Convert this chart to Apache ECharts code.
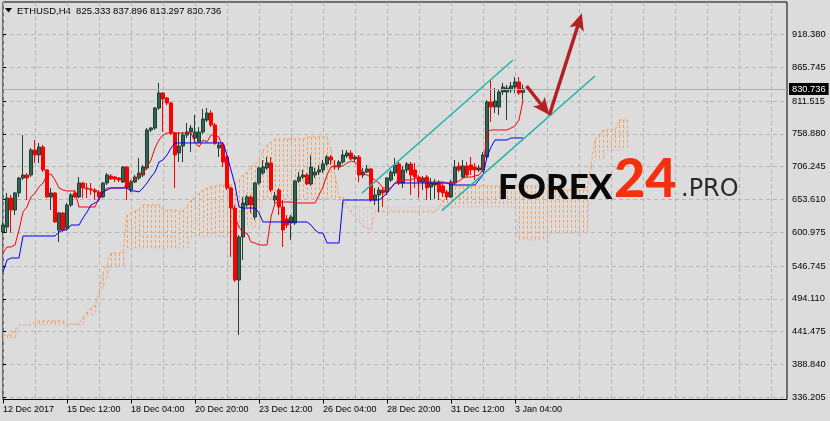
<!DOCTYPE html>
<html><head><meta charset="utf-8">
<script src="https://cdn.jsdelivr.net/npm/echarts@6/dist/echarts.min.js"></script>
<style>html,body{margin:0;padding:0;background:#dcdcdc}#c{width:830px;height:421px}</style>
</head><body><div id="c"></div><script>
const symbolName = 'ETHUSD,H4';
const xLabels = ['12 Dec 2017','15 Dec 12:00','18 Dec 04:00','20 Dec 20:00','23 Dec 12:00','26 Dec 04:00','28 Dec 20:00','31 Dec 12:00','3 Jan 04:00'];
const yTicks = [336.205, 388.840, 441.475, 494.110, 546.745, 600.975, 653.610, 706.245, 758.880, 811.515, 865.745, 918.380];

const opens = [601.3,609.3,655.8,636.6,663.9,687.9,692.7,692.7,732.8,724.8,
737.6,700.8,657.5,663.9,604.5,631.8,607.7,644.6,663.9,657.5,
679.9,671.9,670.3,668.7,665.5,657.5,679.9,691.1,689.5,687.9,
681.5,705.6,668.7,681.5,687.9,692.7,704.0,764.9,768.1,800.2,
824.2,816.2,808.2,760.1,728.0,739.2,756.9,761.7,752.1,745.7,
761.7,780.9,792.2,772.9,736.0,740.9,721.6,671.9,639.8,524.3,
593.3,644.6,657.5,625.4,679.9,695.9,704.0,712.0,652.6,668.7,
641.4,622.2,615.8,615.8,683.1,689.5,692.7,678.3,692.7,697.5,
700.8,710.4,721.6,707.2,705.6,713.6,723.2,728.0,718.4,721.6,
692.7,697.5,702.4,652.6,660.7,668.7,665.5,684.7,695.9,710.4,
679.9,700.8,710.4,700.8,689.5,681.5,689.5,673.5,676.7,679.9,
675.1,665.5,657.5,679.9,707.2,689.5,707.2,708.8,705.6,700.8,
700.8,721.6,809.8,801.8,801.8,825.8,825.8,829.1,833.9,841.9,
825.333];
const closes = [612.5,655.8,636.6,663.9,687.9,692.7,687.9,732.8,724.8,737.6,
700.8,657.5,663.9,617.4,631.8,604.5,644.6,660.7,657.5,679.9,
671.9,670.3,668.7,665.5,657.5,679.9,692.7,686.3,686.3,684.7,
705.6,671.9,681.5,689.5,695.9,705.6,764.9,768.1,800.2,824.2,
814.6,808.2,760.1,724.8,739.2,756.9,761.7,768.1,761.7,761.7,
782.5,792.2,772.9,744.1,740.9,713.6,671.9,639.8,524.3,593.3,
647.8,657.5,644.6,679.9,704.0,705.6,712.0,668.7,659.1,641.4,
604.5,612.5,625.4,683.1,689.5,692.7,678.3,705.6,697.5,700.8,
710.4,721.6,716.8,705.6,713.6,724.8,728.0,718.4,721.6,692.7,
697.5,702.4,652.6,660.7,668.7,663.9,687.9,697.5,708.8,679.9,
700.8,710.4,692.7,689.5,681.5,687.9,671.9,679.9,679.9,665.5,
663.9,657.5,681.5,705.6,700.8,707.2,692.7,700.8,700.8,704.0,
724.8,809.8,801.8,811.4,825.8,833.9,832.3,835.5,841.9,824.2,
830.736];
const lows = [598.1,599.7,599.7,628.6,657.5,684.7,652.6,689.5,712.0,712.0,
697.5,655.8,636.6,615.8,585.3,601.3,604.5,641.4,655.8,655.8,
655.8,655.8,660.7,652.6,652.6,655.8,676.7,684.7,681.5,681.5,
679.9,652.6,665.5,679.9,684.7,689.5,700.8,761.7,764.9,797.0,
761.7,805.0,756.9,671.9,713.6,713.6,752.1,729.6,744.1,744.1,
758.5,777.7,769.7,740.9,721.6,705.6,668.7,561.2,521.1,436.1,
556.4,641.4,631.8,620.6,676.7,692.7,700.8,665.5,647.8,628.6,
577.3,607.7,588.5,612.5,679.9,686.3,676.7,675.1,687.9,692.7,
695.9,707.2,708.8,700.8,700.8,710.4,720.0,716.8,713.6,681.5,
687.9,695.9,649.4,644.6,633.4,641.4,660.7,681.5,691.1,676.7,
671.9,695.9,660.7,671.9,655.8,668.7,652.6,652.6,654.2,652.6,
657.5,652.6,655.8,676.7,697.5,687.9,689.5,692.7,684.7,697.5,
697.5,716.8,777.7,792.2,789.0,821.0,780.9,824.2,824.2,821.0,
813.297];
const highs = [617.4,663.9,660.7,665.5,689.5,756.9,695.9,736.0,748.9,744.1,
740.9,702.4,671.9,665.5,633.4,633.4,647.8,663.9,668.7,689.5,
681.5,679.9,679.9,671.9,668.7,681.5,695.9,694.3,691.1,689.5,
707.2,707.2,684.7,692.7,720.0,708.8,768.1,769.7,801.8,840.3,
825.8,817.8,809.8,761.7,761.7,761.7,776.1,772.9,789.0,769.7,
798.6,800.2,797.0,776.1,745.7,745.7,724.8,673.5,644.6,596.5,
657.5,660.7,660.7,681.5,705.6,716.8,721.6,721.6,665.5,671.9,
652.6,628.6,628.6,684.7,697.5,700.8,695.9,724.8,704.0,708.8,
716.8,724.8,724.8,716.8,716.8,732.8,732.8,732.8,724.8,724.8,
704.0,708.8,704.0,671.9,673.5,673.5,689.5,700.8,720.0,713.6,
707.2,713.6,713.6,712.0,692.7,691.1,692.7,687.9,686.3,684.7,
681.5,668.7,684.7,716.8,713.6,716.8,713.6,721.6,712.0,708.8,
729.6,813.0,845.1,832.3,829.1,840.3,837.1,841.9,849.9,849.9,
837.896];

const tenkan = [567.6,577.3,577.3,580.5,604.5,633.4,641.4,657.5,663.9,673.5,
679.9,692.7,694.3,684.7,671.9,668.7,667.1,667.1,667.1,641.4,
641.4,641.4,641.4,641.4,655.8,663.9,671.9,671.9,671.9,671.9,
671.9,678.3,681.5,686.3,692.7,695.9,705.6,716.8,736.0,748.9,
756.9,760.1,760.1,760.1,760.1,760.1,760.1,760.1,745.7,737.6,
748.9,745.7,756.9,756.9,753.7,732.8,695.9,652.6,625.4,609.3,
599.7,599.7,585.3,583.7,580.5,580.5,580.5,625.4,647.8,649.4,
649.4,649.4,649.4,647.8,647.8,647.8,647.8,647.8,647.8,660.7,
673.5,692.7,705.6,707.2,707.2,707.2,712.0,715.2,713.6,705.6,
695.9,692.7,689.5,684.7,679.9,671.9,671.9,671.9,679.9,684.7,
684.7,684.7,684.7,687.9,686.3,686.3,684.7,681.5,681.5,681.5,
681.5,679.9,679.9,679.9,683.1,687.9,689.5,689.5,691.1,692.7,
700.8,761.7,764.9,764.9,764.9,764.9,764.9,768.1,771.3,780.9,
813.0];
const kijun = [537.2,556.4,559.6,559.6,559.6,594.9,594.9,594.9,594.9,594.9,
594.9,594.9,594.9,594.9,601.3,604.5,604.5,612.5,612.5,612.5,
623.8,633.4,644.6,647.8,652.6,665.5,668.7,671.9,671.9,671.9,
671.9,671.9,667.1,667.1,665.5,671.9,679.9,689.5,697.5,713.6,
716.8,724.8,736.0,744.1,744.1,744.1,744.1,744.1,744.1,744.1,
744.1,744.1,744.1,744.1,744.1,744.1,724.8,700.8,676.7,641.4,
639.8,639.8,639.8,639.8,631.8,617.4,617.4,617.4,617.4,617.4,
617.4,617.4,617.4,617.4,617.4,617.4,617.4,612.5,604.5,599.7,
599.7,583.7,583.7,583.7,583.7,652.6,652.6,652.6,652.6,652.6,
652.6,652.6,652.6,652.6,652.6,657.5,663.9,671.9,679.9,679.9,
679.9,679.9,679.9,679.9,679.9,679.9,679.9,679.9,679.9,679.9,
679.9,679.9,676.7,676.7,676.7,676.7,676.7,676.7,676.7,684.7,
692.7,721.6,737.6,748.9,748.9,748.9,748.9,752.1,752.1,752.1,
752.1];
const senkouA = [436.1,436.1,436.1,444.1,452.2,452.2,452.2,452.2,457.0,458.6,
458.6,458.6,458.6,458.6,458.6,458.6,453.8,453.8,453.8,453.8,
465.0,473.0,479.4,484.2,503.5,535.6,548.4,567.6,567.6,567.6,
569.2,628.6,631.8,635.0,638.2,644.6,644.6,644.6,644.6,644.6,
636.6,636.6,636.6,636.6,633.4,636.6,643.0,652.6,657.5,663.9,
668.7,671.9,673.5,675.1,676.7,676.7,676.7,676.7,679.9,684.7,
692.7,697.5,705.6,708.8,716.8,732.8,740.9,745.7,750.5,750.5,
750.5,750.5,750.5,750.5,750.5,750.5,753.7,753.7,753.7,753.7,
753.7,753.7,732.8,692.7,657.5,657.5,641.4,633.4,625.4,617.4,
610.9,607.7,604.5,633.4,633.4,633.4,633.4,633.4,633.4,633.4,
633.4,633.4,633.4,633.4,633.4,633.4,633.4,633.4,633.4,641.4,
652.6,660.7,668.7,673.5,675.1,675.1,675.1,675.1,675.1,675.1,
675.1,675.1,675.1,675.1,675.1,675.1,675.1,675.1,675.1,675.1,
675.1,675.1,675.1,675.1,675.1,675.1,668.7,668.7,668.7,668.7,
668.7,668.7,668.7,668.7,668.7,668.7,668.7,708.8,748.9,756.9,
764.9,764.9,764.9,764.9,780.9,780.9,780.9];
const senkouB = [431.3,431.3,431.3,431.3,452.2,452.2,452.2,452.2,452.2,452.2,
452.2,452.2,452.2,452.2,452.2,452.2,452.2,452.2,452.2,452.2,
452.2,468.2,468.2,468.2,492.3,513.1,529.1,545.2,545.2,545.2,
545.2,575.7,575.7,575.7,575.7,575.7,575.7,575.7,575.7,575.7,
575.7,575.7,575.7,575.7,575.7,575.7,575.7,593.3,593.3,593.3,
593.3,593.3,593.3,593.3,593.3,593.3,593.3,593.3,609.3,609.3,
609.3,609.3,609.3,609.3,609.3,655.8,655.8,655.8,655.8,655.8,
655.8,655.8,655.8,655.8,655.8,655.8,655.8,655.8,655.8,655.8,
655.8,655.8,652.6,652.6,652.6,641.4,641.4,641.4,641.4,641.4,
641.4,641.4,641.4,641.4,641.4,641.4,641.4,641.4,641.4,641.4,
641.4,641.4,641.4,641.4,641.4,641.4,641.4,641.4,641.4,641.4,
641.4,641.4,641.4,641.4,641.4,641.4,641.4,641.4,641.4,641.4,
641.4,641.4,641.4,641.4,641.4,641.4,641.4,641.4,641.4,588.5,
588.5,588.5,588.5,588.5,588.5,588.5,588.5,599.7,599.7,599.7,
599.7,599.7,599.7,599.7,599.7,599.7,599.7,700.8,716.8,716.8,
716.8,732.8,732.8,732.8,732.8,732.8,732.8];

// drawn objects (bar index, price)
const channelUpper = [[89.7, 663.4], [127.5, 877.2]];
const channelLower = [[109.7, 635.5], [148.0, 851.5]];
const arrows = [[130.9, 835.5, 136.6, 789.0], [136.6, 789.0, 144.7, 952.1]];

const nSlots = 197;
const yMin = 332.68, yMax = 970.18;

const last = opens.length - 1;
const candleData = opens.map((o, i) => [o, closes[i], lows[i], highs[i]]);
const hatchData = senkouA.map((a, i) => [i, a, senkouB[i]]);
const cats = Array.from({length: nSlots}, (_, i) => 'b' + i);

const chart = echarts.init(document.getElementById('c'), null, {renderer: 'canvas'});
const FONT = "'Liberation Sans', Arial, sans-serif";

function hatchItem(params, api) {
  const i = api.value(0), a = api.value(1), b = api.value(2);
  const p1 = api.coord([i, a]), p2 = api.coord([i, b]);
  const x = Math.round(p1[0]) + 0.5;
  return {type: 'line', shape: {x1: x, y1: p1[1], x2: x, y2: p2[1]},
    style: {stroke: a >= b ? '#F4A460' : '#D8BFD8', lineWidth: 1, lineDash: [3, 2]}};
}
function arrowItem(params, api) {
  const p1 = api.coord([api.value(0), api.value(1)]);
  const p2 = api.coord([api.value(2), api.value(3)]);
  const dx = p2[0] - p1[0], dy = p2[1] - p1[1];
  const L = Math.hypot(dx, dy), ux = dx / L, uy = dy / L;
  const hl = 17, hw = 7.5;
  const bx = p2[0] - ux * hl, by = p2[1] - uy * hl;
  return {type: 'group', children: [
    {type: 'line', shape: {x1: p1[0], y1: p1[1], x2: bx + ux * 5, y2: by + uy * 5},
      style: {stroke: '#B22222', lineWidth: 3.5}},
    {type: 'polygon', shape: {points: [[p2[0], p2[1]], [bx - uy * hw, by + ux * hw], [bx + ux * 4, by + uy * 4], [bx + uy * hw, by - ux * hw]]},
      style: {fill: '#B22222'}}
  ]};
}

const lineBase = {type: 'line', symbol: 'none', silent: true, animation: false};
const titleText = symbolName + '  ' + [opens[last], highs[last], lows[last], closes[last]].map(v => v.toFixed(3)).join(' ');

chart.setOption({
  backgroundColor: '#dcdcdc',
  animation: false,
  grid: {left: 3, top: 2, width: 784, height: 397.5, show: true, borderColor: '#000', borderWidth: 1,
    containLabel: false, outerBoundsMode: 'none'},
  xAxis: [{
    type: 'category', data: cats, boundaryGap: false,
    axisLine: {show: false},
    axisTick: {show: true, length: 4, interval: (i) => i % 16 === 0 && i / 16 < xLabels.length, lineStyle: {color: '#000'}},
    axisLabel: {show: true, interval: (i) => i % 16 === 0 && i / 16 < xLabels.length, align: 'left', margin: 6,
      formatter: (v, idx) => xLabels[idx / 16] || '', color: '#000', fontSize: 9, fontFamily: FONT},
    splitLine: {show: true, interval: (i) => i % 8 === 0, lineStyle: {color: '#b4b4b4', type: [4, 3], width: 1}}
  }, {
    type: 'value', min: 0, max: nSlots - 1, show: false, splitLine: {show: false}
  }],
  yAxis: {
    type: 'value', position: 'right', min: yMin, max: yMax,
    axisLine: {show: false},
    axisTick: {show: true, length: 3, customValues: yTicks, lineStyle: {color: '#000'}},
    axisLabel: {show: true, customValues: yTicks, formatter: (v) => v.toFixed(3), margin: 5, color: '#000', fontSize: 9.3, fontFamily: FONT},
    splitLine: {show: true, lineStyle: {color: '#b4b4b4', type: [4, 3], width: 1}}
  },
  graphic: [
    {type: 'polygon', shape: {points: [[5, 8], [12, 8], [8.5, 12.5]]}, style: {fill: '#000'}},
    {type: 'text', x: 17, y: 11, style: {text: titleText, font: '9.5px ' + FONT, fill: '#000', verticalAlign: 'middle'}},
    {type: 'text', z: 100, x: 498, y: 205, style: {text: 'FOREX', font: '900 35px Lato', fill: '#0a0a0a', verticalAlign: 'bottom'}},
    {type: 'text', z: 100, x: 614, y: 207, style: {text: '24', font: '900 54px Lato', fill: '#F5300F', verticalAlign: 'bottom'}},
    {type: 'text', z: 100, x: 681, y: 202, style: {text: '.PRO', font: '400 24px "DejaVu Sans"', fill: '#2a2a2a', verticalAlign: 'bottom'}}
  ],
  series: [
    {type: 'custom', renderItem: hatchItem, data: hatchData, z: 1, silent: true, clip: true, encode: {x: 0, y: [1, 2]}},
    Object.assign({}, lineBase, {data: senkouA, z: 2, lineStyle: {color: '#F4A460', width: 1, type: [3, 2]}}),
    Object.assign({}, lineBase, {data: senkouB, z: 2, lineStyle: {color: '#D8BFD8', width: 1, type: [3, 2]}}),
    {type: 'candlestick', data: candleData, z: 3, barWidth: 3, clip: false, silent: true,
      itemStyle: {color: '#2F6653', color0: '#FF0000', borderColor: '#223F35', borderColor0: '#FF0000', borderWidth: 1},
      markLine: {silent: true, symbol: ['none', 'none'], animation: false,
        lineStyle: {color: '#b0b0b0', type: 'solid', width: 1},
        label: {position: 'end', formatter: closes[last].toFixed(3), backgroundColor: '#000', color: '#fff',
          padding: [2, 3, 1, 3], fontSize: 9.3, fontFamily: FONT, distance: 2},
        data: [{yAxis: closes[last]}]}},
    Object.assign({}, lineBase, {data: tenkan, z: 4, lineStyle: {color: '#FF0000', width: 1}}),
    Object.assign({}, lineBase, {data: kijun, z: 4, lineStyle: {color: '#0000FF', width: 1}}),
    Object.assign({}, lineBase, {xAxisIndex: 1, data: channelUpper, z: 5, lineStyle: {color: '#20B2AA', width: 1.5}}),
    Object.assign({}, lineBase, {xAxisIndex: 1, data: channelLower, z: 5, lineStyle: {color: '#20B2AA', width: 1.5}}),
    {type: 'custom', xAxisIndex: 1, renderItem: arrowItem, data: arrows, z: 6, silent: true, clip: false}
  ]
});
</script></body></html>
